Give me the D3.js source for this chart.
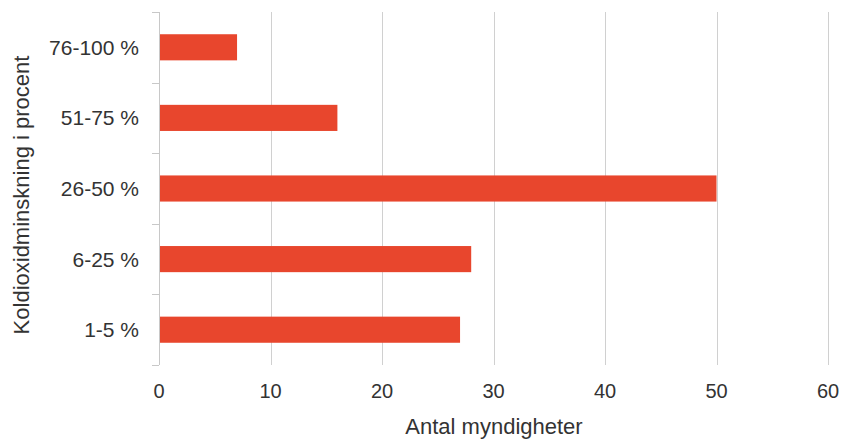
<!DOCTYPE html>
<html>
<head>
<meta charset="utf-8">
<script src="https://cdnjs.cloudflare.com/ajax/libs/d3/7.8.5/d3.min.js"></script>
<style>
  body { margin: 0; background: #fff; }
  svg text { font-family: "Liberation Sans", Arial, sans-serif; fill: #333; }
</style>
</head>
<body>
<div id="chart"></div>
<script>
// Data
var categories = ["76-100 %", "51-75 %", "26-50 %", "6-25 %", "1-5 %"];
var values = [7, 16, 50, 28, 27];
var xTicks = [0, 10, 20, 30, 40, 50, 60];

var width = 841;
var height = 441;

// plot area
var plotLeft = 159;
var plotRight = 828;
var plotTop = 12;
var plotBottom = 365;

var svg = d3
  .select("#chart")
  .append("svg")
  .attr("width", width)
  .attr("height", height);

var xScale = d3.scaleLinear().domain([0, 60]).range([plotLeft, plotRight]);

var yScale = d3
  .scaleBand()
  .domain(categories)
  .range([plotTop, plotBottom])
  .paddingInner(0.63)
  .paddingOuter(0.315);

// vertical gridlines
svg
  .append("g")
  .selectAll("line")
  .data(xTicks.slice(1))
  .enter()
  .append("line")
  .attr("x1", function (d) { return Math.round(xScale(d)) + 0.5; })
  .attr("x2", function (d) { return Math.round(xScale(d)) + 0.5; })
  .attr("y1", plotTop)
  .attr("y2", plotBottom)
  .attr("stroke", "#d0d0d0")
  .attr("stroke-width", 1);

// left axis line + category boundary ticks
svg
  .append("line")
  .attr("x1", plotLeft + 0.5)
  .attr("x2", plotLeft + 0.5)
  .attr("y1", plotTop)
  .attr("y2", plotBottom)
  .attr("stroke", "#c8c8c8");

var boundaries = d3.range(categories.length + 1).map(function (i) {
  return plotTop + i * (plotBottom - plotTop) / categories.length;
});
svg
  .append("g")
  .selectAll("line")
  .data(boundaries)
  .enter()
  .append("line")
  .attr("x1", plotLeft - 7)
  .attr("x2", plotLeft)
  .attr("y1", function (d) { return Math.round(d) + 0.5; })
  .attr("y2", function (d) { return Math.round(d) + 0.5; })
  .attr("stroke", "#c8c8c8");

// bars
svg
  .append("g")
  .selectAll("rect")
  .data(values)
  .enter()
  .append("rect")
  .attr("x", xScale(0) + 1)
  .attr("y", function (d, i) { return yScale(categories[i]); })
  .attr("width", function (d) { return xScale(d) - xScale(0) - 1; })
  .attr("height", yScale.bandwidth())
  .attr("fill", "#e8462d");

// category labels
svg
  .append("g")
  .selectAll("text")
  .data(categories)
  .enter()
  .append("text")
  .attr("x", 139)
  .attr("y", function (d) { return yScale(d) + yScale.bandwidth() / 2; })
  .attr("dy", "0.36em")
  .attr("text-anchor", "end")
  .attr("font-size", "21px")
  .text(function (d) { return d; });

// x tick labels
svg
  .append("g")
  .selectAll("text")
  .data(xTicks)
  .enter()
  .append("text")
  .attr("x", function (d) { return xScale(d); })
  .attr("y", 398)
  .attr("text-anchor", "middle")
  .attr("font-size", "20px")
  .text(function (d) { return d; });

// axis titles
svg
  .append("text")
  .attr("x", 494)
  .attr("y", 434)
  .attr("text-anchor", "middle")
  .attr("font-size", "22px")
  .text("Antal myndigheter");

svg
  .append("text")
  .attr("transform", "translate(29,195)rotate(-90)")
  .attr("text-anchor", "middle")
  .attr("font-size", "22px")
  .text("Koldioxidminskning  i procent");
</script>
</body>
</html>
